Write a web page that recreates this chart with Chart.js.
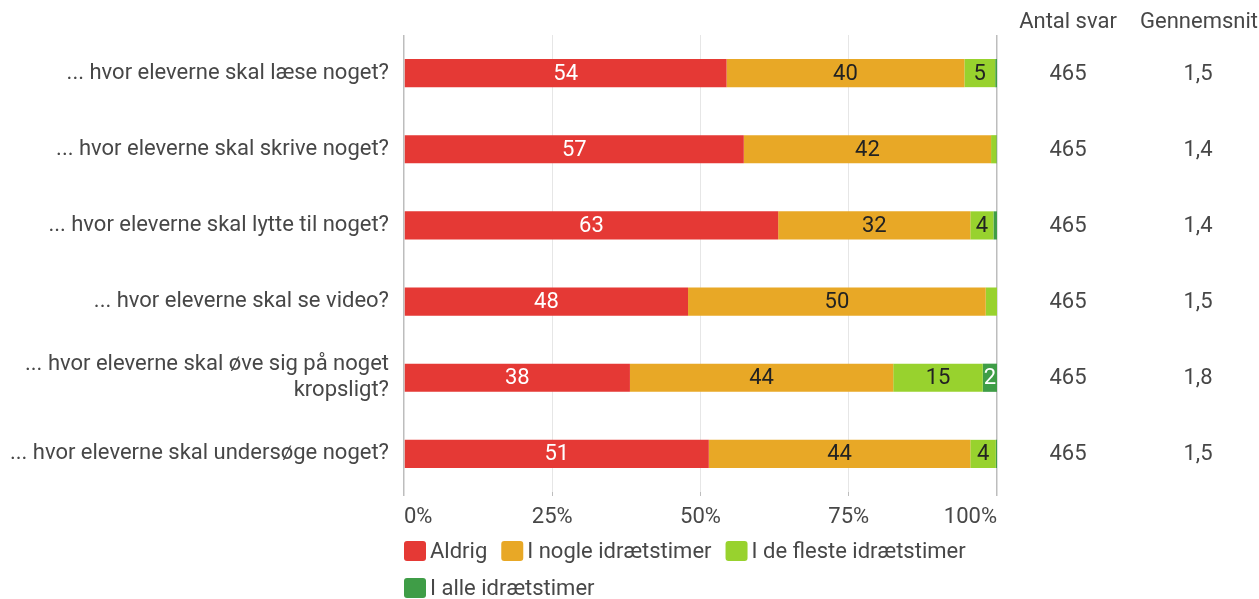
<!DOCTYPE html>
<html>
<head>
<meta charset="utf-8">
<script src="https://cdn.jsdelivr.net/npm/chart.js@4"></script>
<style>
  body { margin: 0; background: #fff; }
  #wrap { width: 1259px; height: 599px; position: relative; }
</style>
</head>
<body>
<div id="wrap"><canvas id="surveyChart"></canvas></div>
<script>
// data
const questions = [
    '... hvor eleverne skal læse noget?',
    '... hvor eleverne skal skrive noget?',
    '... hvor eleverne skal lytte til noget?',
    '... hvor eleverne skal se video?',
    ['... hvor eleverne skal øve sig på noget', 'kropsligt?'],
    '... hvor eleverne skal undersøge noget?'
];
const aldrig = [54.4, 57.3, 63.1, 47.9, 38.1, 51.4];
const nogle = [40.1, 41.7, 32.4, 50.2, 44.4, 44.1];
const fleste = [5.2, 0.9, 3.9, 1.9, 15.1, 4.3];
const alle = [0.3, 0.1, 0.6, 0.0, 2.4, 0.2];
const antalSvar = ['465', '465', '465', '465', '465', '465'];
const gennemsnit = ['1,5', '1,4', '1,4', '1,5', '1,8', '1,5'];
const xTicks = [0, 25, 50, 75, 100];

const FONT = 'Roboto, "Liberation Sans", sans-serif';
const textGrey = '#474747';

// numbers inside the bars
const barLabels = {
    id: 'barLabels',
    afterDatasetsDraw(chart) {
        const ctx = chart.ctx;
        ctx.save();
        ctx.font = '22px ' + FONT;
        ctx.textAlign = 'center';
        ctx.textBaseline = 'middle';
        chart.data.datasets.forEach((ds, di) => {
            chart.getDatasetMeta(di).data.forEach((bar, i) => {
                const txt = String(Math.round(ds.data[i]));
                const w = Math.abs(bar.x - bar.base);
                if (w < ctx.measureText(txt).width) return;
                ctx.fillStyle = ds.labelColor;
                ctx.fillText(txt, (bar.x + bar.base) / 2, bar.y + 1);
            });
        });
        ctx.restore();
    }
};

// right-hand columns and legend
const extras = {
    id: 'extras',
    afterDraw(chart) {
        const ctx = chart.ctx;
        const y = chart.scales.y;
        ctx.save();
        ctx.font = '22px ' + FONT;
        ctx.fillStyle = textGrey;
        ctx.textBaseline = 'middle';
        ctx.textAlign = 'center';
        ctx.fillText('Antal svar', 1068, 22);
        ctx.fillText('Gennemsnit', 1199, 22);
        questions.forEach((q, i) => {
            const py = y.getPixelForValue(i) + 1;
            ctx.fillText(antalSvar[i], 1068, py);
            ctx.fillText(gennemsnit[i], 1198, py);
        });

        // legend, wrapped inside the chart area width
        ctx.textAlign = 'left';
        const left = chart.chartArea.left;
        const maxRight = chart.chartArea.right + 5;
        let lx = left, ly = 551;
        chart.data.datasets.forEach(ds => {
            const tw = ctx.measureText(ds.label).width;
            const itemW = 22 + 4 + tw;
            if (lx + itemW > maxRight && lx > left) {
                lx = left;
                ly += 37;
            }
            ctx.fillStyle = ds.backgroundColor;
            ctx.beginPath();
            ctx.roundRect(lx, ly - 10, 22, 20, 3);
            ctx.fill();
            ctx.fillStyle = textGrey;
            ctx.fillText(ds.label, lx + 26, ly + 1);
            lx += itemW + 14;
        });
        ctx.restore();
    }
};

const surveyChart = new Chart(document.getElementById('surveyChart'), {
    type: 'bar',
    data: {
        labels: questions,
        datasets: [
            { label: 'Aldrig', data: aldrig, backgroundColor: '#e53935', labelColor: '#fff' },
            { label: 'I nogle idrætstimer', data: nogle, backgroundColor: '#e8a826', labelColor: '#222' },
            { label: 'I de fleste idrætstimer', data: fleste, backgroundColor: '#98d22e', labelColor: '#222' },
            { label: 'I alle idrætstimer', data: alle, backgroundColor: '#3f9d47', labelColor: '#fff' }
        ]
    },
    options: {
        indexAxis: 'y',
        responsive: true,
        maintainAspectRatio: false,
        animation: false,
        categoryPercentage: 0.37,
        barPercentage: 1,
        layout: { padding: { top: 35, right: 262, bottom: 67, left: 0 } },
        plugins: {
            legend: { display: false },
            tooltip: { enabled: false }
        },
        scales: {
            x: {
                stacked: true,
                min: 0,
                max: 100,
                afterBuildTicks: s => { s.ticks = xTicks.map(v => ({ value: v })); },
                afterFit: s => { s.height = 40; },
                border: { display: false },
                grid: {
                    color: c => (c.tick && (c.tick.value === 0 || c.tick.value === 100)) ? '#bdbdbd' : '#e6e6e6',
                    tickColor: '#bdbdbd',
                    tickLength: 4,
                    lineWidth: c => (c.tick && (c.tick.value === 0 || c.tick.value === 100)) ? 1.5 : 1
                },
                ticks: {
                    padding: 8,
                    align: 'inner',
                    color: textGrey,
                    font: { family: FONT, size: 22 },
                    callback: v => v + '%'
                }
            },
            y: {
                stacked: true,
                afterFit: s => { s.width = 404; },
                border: { display: false },
                grid: { display: false },
                ticks: {
                    padding: 7,
                    color: textGrey,
                    font: { family: FONT, size: 22, lineHeight: 1.2 }
                }
            }
        }
    },
    plugins: [barLabels, extras]
});
</script>
</body>
</html>
